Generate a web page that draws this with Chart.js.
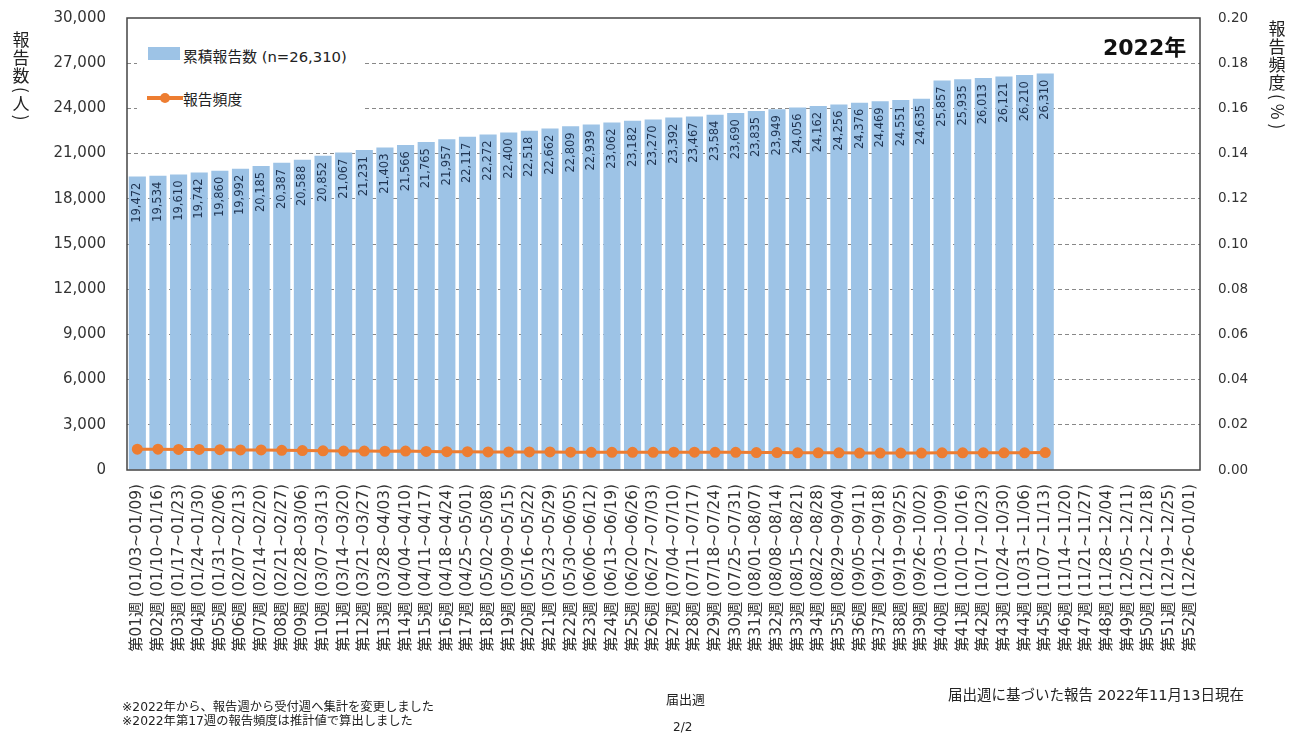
<!DOCTYPE html>
<html>
<head>
<meta charset="utf-8">
<script src="https://cdn.jsdelivr.net/npm/chart.js@4/dist/chart.umd.min.js"></script>
<style>
    body { margin: 0; background: #fff; }
    #wrap { position: relative; width: 1289px; height: 735px; font-family: "DejaVu Sans", "Noto Sans CJK JP", sans-serif; color: #222; }
    #wrap div { position: absolute; white-space: nowrap; }
</style>
</head>
<body>
<div id="wrap">
    <canvas id="chart" width="1289" height="735"></canvas>

    <div style="left:137px; top:34px; width:225px; height:80px; background:#fff;"></div>
    <div style="left:148px; top:47px; width:32px; height:13px; background:#9dc3e6;"></div>
    <div style="left:183px; top:45px; font-size:14.8px;">累積報告数 (n=26,310)</div>
    <div style="left:147px; top:96px; width:36px; height:4px; background:#ed7d31;"></div>
    <div style="left:160px; top:93px; width:10px; height:10px; border-radius:5px; background:#ed7d31;"></div>
    <div style="left:183px; top:88px; font-size:14.8px;">報告頻度</div>

    <div style="left:1103px; top:29px; font-size:22px; font-weight:bold; color:#111;">2022年</div>

    <div style="left:122px; top:697px; font-size:12.3px;">※2022年から、報告週から受付週へ集計を変更しました</div>
    <div style="left:122px; top:711px; font-size:12.3px;">※2022年第17週の報告頻度は推計値で算出しました</div>
    <div style="left:666px; top:689px; font-size:13px;">届出週</div>
    <div style="left:673px; top:720px; font-size:12px;">2/2</div>
    <div style="left:948px; top:683px; font-size:14.5px;">届出週に基づいた報告 2022年11月13日現在</div>
</div>

<script>
const weekLabels = [
    '第01週 (01/03~01/09)', '第02週 (01/10~01/16)', '第03週 (01/17~01/23)', '第04週 (01/24~01/30)',
    '第05週 (01/31~02/06)', '第06週 (02/07~02/13)', '第07週 (02/14~02/20)', '第08週 (02/21~02/27)',
    '第09週 (02/28~03/06)', '第10週 (03/07~03/13)', '第11週 (03/14~03/20)', '第12週 (03/21~03/27)',
    '第13週 (03/28~04/03)', '第14週 (04/04~04/10)', '第15週 (04/11~04/17)', '第16週 (04/18~04/24)',
    '第17週 (04/25~05/01)', '第18週 (05/02~05/08)', '第19週 (05/09~05/15)', '第20週 (05/16~05/22)',
    '第21週 (05/23~05/29)', '第22週 (05/30~06/05)', '第23週 (06/06~06/12)', '第24週 (06/13~06/19)',
    '第25週 (06/20~06/26)', '第26週 (06/27~07/03)', '第27週 (07/04~07/10)', '第28週 (07/11~07/17)',
    '第29週 (07/18~07/24)', '第30週 (07/25~07/31)', '第31週 (08/01~08/07)', '第32週 (08/08~08/14)',
    '第33週 (08/15~08/21)', '第34週 (08/22~08/28)', '第35週 (08/29~09/04)', '第36週 (09/05~09/11)',
    '第37週 (09/12~09/18)', '第38週 (09/19~09/25)', '第39週 (09/26~10/02)', '第40週 (10/03~10/09)',
    '第41週 (10/10~10/16)', '第42週 (10/17~10/23)', '第43週 (10/24~10/30)', '第44週 (10/31~11/06)',
    '第45週 (11/07~11/13)', '第46週 (11/14~11/20)', '第47週 (11/21~11/27)', '第48週 (11/28~12/04)',
    '第49週 (12/05~12/11)', '第50週 (12/12~12/18)', '第51週 (12/19~12/25)', '第52週 (12/26~01/01)'
];

// 累積報告数 (weeks 1-45)
const cumulativeReports = [
    19472, 19534, 19610, 19742, 19860, 19992, 20185, 20387, 20588, 20852,
    21067, 21231, 21403, 21566, 21765, 21957, 22117, 22272, 22400, 22518,
    22662, 22809, 22939, 23062, 23182, 23270, 23392, 23467, 23584, 23690,
    23835, 23949, 24056, 24162, 24256, 24376, 24469, 24551, 24635, 25857,
    25935, 26013, 26121, 26210, 26310
];

// 報告頻度 (%)
const reportFrequency = [
    0.0092, 0.0092, 0.0091, 0.0091, 0.0090, 0.0089, 0.0089, 0.0087, 0.0086, 0.0085,
    0.0084, 0.0084, 0.0083, 0.0084, 0.0082, 0.0081, 0.0081, 0.0080, 0.0080, 0.0080,
    0.0080, 0.0079, 0.0078, 0.0078, 0.0078, 0.0078, 0.0079, 0.0079, 0.0078, 0.0078,
    0.0077, 0.0077, 0.0076, 0.0076, 0.0076, 0.0075, 0.0075, 0.0075, 0.0075, 0.0076,
    0.0076, 0.0076, 0.0076, 0.0076, 0.0077
];

const leftTicks = [0, 3000, 6000, 9000, 12000, 15000, 18000, 21000, 24000, 27000, 30000];
const rightTicks = [0, 0.02, 0.04, 0.06, 0.08, 0.10, 0.12, 0.14, 0.16, 0.18, 0.20];

const leftTitle = '報告数(人)';
const rightTitle = '報告頻度(%)';

const fontFamily = '"DejaVu Sans", "Noto Sans CJK JP", sans-serif';

const barLabelPlugin = {
    id: 'barLabels',
    afterDatasetsDraw(chart)
    {
        const ctx = chart.ctx;
        const meta = chart.getDatasetMeta(0);
        ctx.save();
        ctx.font = '11.5px ' + fontFamily;
        ctx.fillStyle = '#1f3350';
        ctx.textAlign = 'right';
        ctx.textBaseline = 'middle';
        meta.data.forEach((bar, i) => {
            ctx.save();
            ctx.translate(bar.x, bar.y + 6);
            ctx.rotate(-Math.PI / 2);
            ctx.fillText(cumulativeReports[i].toLocaleString('en-US'), 0, 0);
            ctx.restore();
        });
        ctx.restore();
    }
};

// stacked vertical titles, brackets and latin turned sideways
function drawVerticalText(ctx, text, x, y, size)
{
    ctx.save();
    ctx.font = size + 'px "Noto Sans CJK JP", ' + fontFamily;
    ctx.fillStyle = '#222';
    ctx.textAlign = 'center';
    ctx.textBaseline = 'middle';
    let cy = y;
    for (const ch of text)
    {
        const sideways = /[()%]/.test(ch);
        const step = sideways ? ctx.measureText(ch).width + 4 : size + 1;
        const mid = cy + step / 2;
        if (sideways)
        {
            ctx.save();
            ctx.translate(x, mid);
            ctx.rotate(Math.PI / 2);
            ctx.fillText(ch, 0, 0);
            ctx.restore();
        }
        else
        {
            ctx.fillText(ch, x, mid);
        }
        cy += step;
    }
    ctx.restore();
}

const framePlugin = {
    id: 'frameBox',
    afterDraw(chart)
    {
        const a = chart.chartArea;
        const ctx = chart.ctx;
        ctx.save();
        ctx.strokeStyle = '#444';
        ctx.lineWidth = 1.5;
        ctx.strokeRect(a.left, a.top, a.right - a.left, a.bottom - a.top);
        ctx.restore();

        drawVerticalText(ctx, leftTitle, 21, 31, 17);
        drawVerticalText(ctx, rightTitle, 1277, 20, 17);
    }
};

const config = {
    data: {
        labels: weekLabels,
        datasets: [
            {
                type: 'bar',
                label: '累積報告数 (n=26,310)',
                data: cumulativeReports,
                backgroundColor: '#9dc3e6',
                barPercentage: 0.83,
                categoryPercentage: 1.0,
                yAxisID: 'y',
                order: 2
            },
            {
                type: 'line',
                label: '報告頻度',
                data: reportFrequency,
                borderColor: '#ed7d31',
                backgroundColor: '#ed7d31',
                borderWidth: 3,
                pointRadius: 4,
                pointHoverRadius: 4,
                yAxisID: 'y2',
                order: 1
            }
        ]
    },
    options: {
        responsive: false,
        animation: false,
        layout: { padding: { top: 18, left: 0, right: 0, bottom: 0 } },
        plugins: {
            legend: { display: false },
            tooltip: { enabled: false }
        },
        scales: {
            x: {
                grid: { display: false },
                border: { display: false },
                ticks: {
                    autoSkip: false,
                    minRotation: 90,
                    maxRotation: 90,
                    padding: 6,
                    color: '#333',
                    font: { family: fontFamily, size: 15.3 }
                },
                afterFit: scale => { scale.height = 265; }
            },
            y: {
                position: 'left',
                min: 0,
                max: 30000,
                afterBuildTicks: scale => { scale.ticks = leftTicks.map(v => ({ value: v })); },
                grid: {
                    color: ctx => (ctx.tick && (ctx.tick.value === 0 || ctx.tick.value === 30000)) ? 'rgba(0,0,0,0)' : '#888',
                    lineWidth: 1,
                    drawTicks: true,
                    tickLength: 20,
                    tickColor: 'rgba(0,0,0,0)'
                },
                border: { display: false, dash: [4, 3] },
                ticks: {
                    padding: 1,
                    color: '#333',
                    font: { family: fontFamily, size: 15 },
                    callback: v => v.toLocaleString('en-US')
                },
                afterFit: scale => { scale.width = 127; }
            },
            y2: {
                position: 'right',
                min: 0,
                max: 0.2,
                afterBuildTicks: scale => { scale.ticks = rightTicks.map(v => ({ value: v })); },
                grid: {
                    display: true,
                    drawOnChartArea: false,
                    drawTicks: true,
                    tickLength: 17,
                    color: 'rgba(0,0,0,0)',
                    tickColor: 'rgba(0,0,0,0)'
                },
                border: { display: false },
                ticks: {
                    padding: 1,
                    color: '#333',
                    font: { family: fontFamily, size: 13.5 },
                    callback: v => v.toFixed(2)
                },
                afterFit: scale => { scale.width = 89; }
            }
        }
    },
    plugins: [barLabelPlugin, framePlugin]
};

const myChart = new Chart(document.getElementById('chart'), config);
</script>
</body>
</html>
